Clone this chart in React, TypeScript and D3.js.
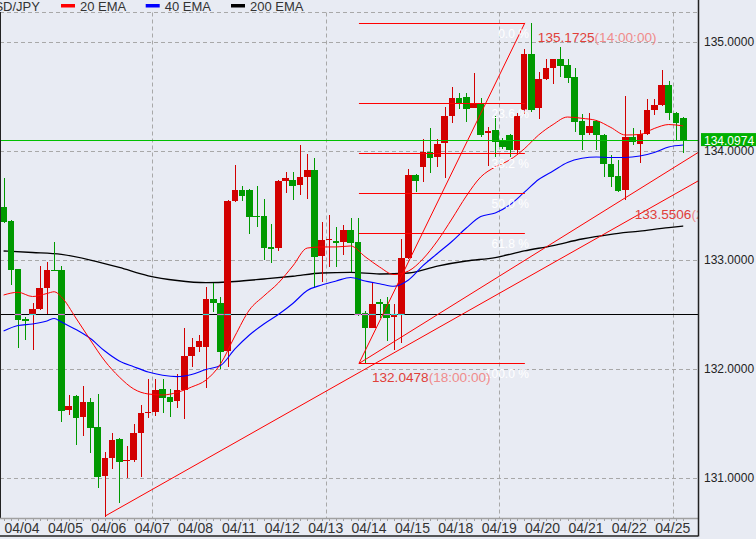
import React from "react";
import * as d3 from "d3";

const dateLabels = ["04/04","04/05","04/06","04/07","04/08","04/11","04/12","04/13","04/14","04/15","04/18","04/19","04/20","04/21","04/22","04/25"];

const opens = [133.484,133.355,132.915,132.456,132.493,132.548,132.740,132.906,132.906,131.621,131.750,131.560,131.695,131.465,131.018,131.181,131.355,131.158,131.162,131.410,131.594,131.606,131.814,131.743,131.707,131.805,132.117,132.199,132.199,132.640,132.603,132.165,133.539,133.640,133.640,133.401,133.401,133.119,133.110,133.725,133.731,133.685,133.759,133.823,133.037,133.181,133.172,133.162,133.272,133.162,132.508,132.376,132.615,132.594,132.477,132.502,133.018,133.777,133.853,133.985,133.945,134.068,134.318,134.484,134.493,134.395,134.435,134.160,134.190,134.089,134.144,134.006,134.373,134.887,134.389,134.655,134.762,134.841,134.786,134.679,134.272,134.160,134.272,134.144,133.878,133.768,133.640,134.128,134.062,134.150,134.373,134.419,134.603,134.343,134.297];
const highs = [133.750,133.364,132.915,132.477,132.603,132.940,132.979,133.162,132.940,131.759,131.760,131.841,131.729,131.768,131.236,131.407,131.360,131.294,131.493,131.667,131.906,131.906,131.906,131.814,131.949,132.371,132.279,132.309,132.750,132.789,132.658,133.545,133.869,133.676,133.649,133.676,133.557,133.328,133.731,133.805,133.805,134.052,133.970,133.933,133.346,133.410,133.300,133.318,133.383,133.383,132.532,132.798,132.642,132.661,132.594,133.190,133.832,133.786,134.105,134.211,134.105,134.398,134.587,134.532,134.532,134.716,134.484,134.215,134.321,134.117,134.150,134.349,134.930,135.1725,134.722,134.841,134.841,134.949,134.841,134.761,134.337,134.343,134.282,134.150,133.961,133.915,134.502,134.206,134.190,134.474,134.474,134.740,134.642,134.358,134.307];
const lows = [133.340,132.768,132.193,132.263,132.174,132.541,132.502,132.896,131.514,131.575,131.300,131.385,131.229,130.908,130.642,131.080,130.771,131.000,131.147,131.009,131.548,131.566,131.596,131.560,131.642,131.536,132.018,132.153,131.826,132.523,131.995,132.018,133.532,133.541,133.236,133.303,132.997,132.967,133.083,133.615,133.548,133.594,133.557,132.743,132.798,132.936,132.936,133.043,132.890,132.483,132.0478,132.370,132.462,132.257,132.172,132.233,133.010,133.624,133.713,133.798,133.853,133.752,134.251,134.380,134.266,134.390,134.126,133.860,133.945,134.013,133.945,133.976,134.337,134.355,134.291,134.649,134.609,134.679,134.621,134.174,134.006,134.140,134.006,133.762,133.670,133.621,133.5506,134.052,133.890,134.144,134.328,134.410,134.282,134.098,133.976];
const closes = [133.349,132.908,132.450,132.440,132.548,132.740,132.906,132.901,131.615,131.658,131.551,131.695,131.459,131.009,131.181,131.346,131.147,131.162,131.410,131.594,131.603,131.805,131.734,131.697,131.805,132.117,132.199,132.254,132.640,132.600,132.156,133.539,133.640,133.587,133.395,133.389,133.110,133.101,133.722,133.750,133.679,133.759,133.823,133.028,133.181,133.190,133.156,133.272,133.156,132.499,132.371,132.594,132.594,132.468,132.502,133.018,133.777,133.722,133.988,133.936,134.062,134.318,134.484,134.435,134.385,134.435,134.144,134.184,134.083,134.037,134.006,134.318,134.887,134.373,134.655,134.756,134.841,134.780,134.670,134.266,134.144,134.227,134.144,133.875,133.762,133.633,134.128,134.083,134.150,134.373,134.419,134.603,134.343,134.251,134.0974];

const emaIdx = [0,2,4,6,7,8,10,12,14,16,18,20,22,24,26,28,30,32,34,36,38,40,42,44,46,48,50,52,54,56,58,60,62,64,66,68,70,72,74,76,78,80,82,84,86,88,90,92,94];
const ema20 = [132.676,132.701,132.662,132.690,132.706,132.658,132.465,132.263,132.071,131.924,131.814,131.768,131.759,131.782,131.832,131.896,132.043,132.300,132.539,132.667,132.786,132.942,133.107,133.117,133.117,133.126,133.028,132.933,132.864,132.896,133.007,133.172,133.373,133.584,133.759,133.851,133.915,134.016,134.144,134.240,134.309,134.297,134.277,134.213,134.144,134.149,134.204,134.240,134.227];
const ema40 = [132.346,132.396,132.410,132.438,132.461,132.428,132.360,132.277,132.162,132.071,132.018,131.970,131.940,131.927,131.947,131.993,132.029,132.181,132.309,132.410,132.497,132.598,132.718,132.768,132.805,132.837,132.805,132.780,132.756,132.814,132.945,133.057,133.167,133.291,133.396,133.429,133.502,133.617,133.736,133.814,133.892,133.930,133.942,133.938,133.938,133.951,133.984,134.034,134.052];
const ema200Idx = [0,4,8,12,16,20,24,28,32,36,40,44,48,52,56,60,64,68,72,76,80,84,88,92,94];
const ema200 = [133.080,133.066,133.048,132.997,132.929,132.852,132.809,132.789,132.800,132.823,132.848,132.878,132.883,132.869,132.878,132.942,132.988,133.020,133.080,133.130,133.190,133.233,133.263,133.295,133.309];

const yTicks = [131, 132, 133, 134, 135];
const lastPrice = 134.0974;
const hLinePrice = 132.502;

const fibLowPrice = 132.0478;
const fibHighPrice = 135.1725;
const fibStartIdx = 49.15;
const fibEndIdx = 72.1;
const fibRatios = [0, 0.236, 0.382, 0.5, 0.618, 1];
const fibTexts = ["0.0 %", "23.6 %", "38.2 %", "50.0 %", "61.8 %", "100.0 %"];

const trendA = [[14.07, 130.649], [96.1, 133.724]];
const trendB = [[49.15, 132.0478], [96.1, 133.985]];

const noteIdx = [72.1, 49.15, 85.5];
const notePrices = [135.1725, 132.0478, 133.5506];
const noteTimes = ["(14:00:00)", "(18:00:00)", "(22:00:00)"];

const legendNames = ["20 EMA", "40 EMA", "200 EMA"];
const legendColors = ["#ff0000", "#0000ff", "#000000"];

export default function App() {
  const W = 756, H = 539, plotR = 698, plotB = 518.5;
  const x = d3.scaleLinear().domain([0, 94]).range([3.6, 683.2]);
  const y = d3.scaleLinear().domain([131, 135]).range([477.7, 41.7]);
  const font = "Arial, 'Liberation Sans', sans-serif";
  const bg = "#e8ebf3";
  const up = "#d20000", down = "#009900";
  const bw = 6.6;

  const line = d3.line<number[]>().x(d => x(d[0])).y(d => y(d[1])).curve(d3.curveMonotoneX);
  const straight = d3.line<number[]>().x(d => x(d[0])).y(d => y(d[1]));

  const e20 = emaIdx.map((k, j) => [k, ema20[j]]);
  const e40 = emaIdx.map((k, j) => [k, ema40[j]]);
  const e200 = ema200Idx.map((k, j) => [k, ema200[j]]);

  const fibRange = fibHighPrice - fibLowPrice;

  return (
    <div style={{ position: "absolute", left: 0, top: 0, width: W, height: H, background: bg }}>
      <svg width={W} height={H} style={{ display: "block", fontFamily: font }}>
        <defs>
          <clipPath id="plot">
            <rect x={0} y={0} width={plotR} height={plotB} />
          </clipPath>
        </defs>
        <rect x={0} y={0} width={W} height={H} fill={bg} />

        {/* grid */}
        <line x1={0} x2={plotR} y1={12.5} y2={12.5} stroke="#a8a8a8" strokeDasharray="4,3" />
        {yTicks.map(t => (
          <line key={"hg" + t} x1={0} x2={plotR} y1={Math.round(y(t)) + 0.5} y2={Math.round(y(t)) + 0.5}
            stroke="#a8a8a8" strokeDasharray="4,3" />
        ))}
        {dateLabels.map((d, k) => k % 4 === 3 ? (
          <line key={"vg" + k} x1={Math.round(x(2.55 + 6 * k)) + 0.5} x2={Math.round(x(2.55 + 6 * k)) + 0.5}
            y1={12.5} y2={plotB} stroke="#a8a8a8" strokeDasharray="4,3" />
        ) : null)}

        <g clipPath="url(#plot)">
          <line x1={0} x2={plotR} y1={Math.round(y(hLinePrice)) + 0.5} y2={Math.round(y(hLinePrice)) + 0.5} stroke="#000" strokeWidth={1.2} />
          <path d={line(e200) || ""} fill="none" stroke="#000" strokeWidth={1.3} />

          {opens.map((o, i) => {
            const c = closes[i];
            const col = c > o ? up : down;
            const top = y(Math.max(o, c));
            const bot = y(Math.min(o, c));
            const cx = Math.round(x(i)) + 0.5;
            return (
              <g key={"c" + i} shapeRendering="crispEdges">
                <line x1={cx} x2={cx} y1={y(highs[i])} y2={y(lows[i])} stroke={col} strokeWidth={1} />
                <rect x={x(i) - bw / 2} y={top} width={bw} height={Math.max(1, bot - top)} fill={col} />
              </g>
            );
          })}
          {opens.map((o, i) => {
            const c = closes[i];
            const lo = Math.min(o, c), hi = Math.max(o, c);
            if (lo > hLinePrice + 0.004 || hi < hLinePrice - 0.004) return null;
            return (
              <line key={"m" + i} x1={x(i) - bw / 2} x2={x(i) + bw / 2} y1={Math.round(y(hLinePrice)) + 0.5}
                y2={Math.round(y(hLinePrice)) + 0.5} stroke={c > o ? "#33e0e0" : "#e070e0"} strokeWidth={1.2} />
            );
          })}

          <path d={line(e40) || ""} fill="none" stroke="#0000ff" strokeWidth={1.1} />
          <path d={line(e20) || ""} fill="none" stroke="#ff0000" strokeWidth={1} />

          <path d={straight(trendA) || ""} fill="none" stroke="#ff0000" strokeWidth={1} />
          <path d={straight(trendB) || ""} fill="none" stroke="#ff0000" strokeWidth={1} />

          <path d={straight([[fibStartIdx, fibLowPrice], [fibEndIdx, fibHighPrice]]) || ""} fill="none" stroke="#ff0000" strokeWidth={1} />
          {fibRatios.map((r, j) => {
            const p = fibHighPrice - r * fibRange;
            const yy = Math.round(y(p)) + 0.5;
            return (
              <g key={"f" + j}>
                <line x1={x(fibStartIdx)} x2={x(fibEndIdx)} y1={yy} y2={yy} stroke="#ff0000" strokeWidth={1.2} />
                <text x={x(fibEndIdx) + 4} y={yy + 14} textAnchor="end" fontSize={12} fill="#ffffff">{fibTexts[j]}</text>
              </g>
            );
          })}

          {noteIdx.map((k, j) => (
            <text key={"n" + j} x={x(k) + 13} y={y(notePrices[j]) + 19} fontSize={13.6}>
              <tspan fill="#e0403a">{notePrices[j].toFixed(4)}</tspan>
              <tspan fill="#f08c8c">{noteTimes[j]}</tspan>
            </text>
          ))}

          <line x1={0} x2={plotR} y1={Math.round(y(lastPrice)) + 0.5} y2={Math.round(y(lastPrice)) + 0.5} stroke="#00c000" strokeWidth={1} />
        </g>

        <line x1={0.5} x2={0.5} y1={12} y2={plotB} stroke="#222" strokeWidth={1} />
        <line x1={0} x2={plotR} y1={plotB} y2={plotB} stroke="#a0a0a0" strokeWidth={1.5} />
        {opens.map((o, i) => (
          <line key={"t" + i} x1={Math.round(x(i)) + 0.5} x2={Math.round(x(i)) + 0.5} y1={plotB} y2={plotB + 2.5} stroke="#a0a0a0" />
        ))}
        <line x1={plotR + 0.5} x2={plotR + 0.5} y1={0} y2={536.5} stroke="#222" strokeWidth={1.5} />
        <line x1={0} x2={plotR} y1={536} y2={536} stroke="#222" strokeWidth={1.5} />

        {dateLabels.map((d, k) => (
          <text key={"d" + k} x={x(2.55 + 6 * k)} y={533} textAnchor="middle" fontSize={14} fill="#333">{d}</text>
        ))}

        {yTicks.map(t => (
          <text key={"yl" + t} x={704} y={y(t) + 4.5} fontSize={12} fill="#222">{t.toFixed(4)}</text>
        ))}
        <rect x={701} y={y(lastPrice) - 7} width={55} height={13} fill="#00b000" />
        <text x={704} y={y(lastPrice) + 4.5} fontSize={12} fill="#ffffff">{lastPrice.toFixed(4)}</text>

        <text x={-15} y={10.5} fontSize={13} fill="#333">USD/JPY</text>
        {legendNames.map((n, j) => {
          const lx = [61, 145.7, 231][j];
          return (
            <g key={"lg" + j}>
              <rect x={lx} y={4} width={14} height={3.5} fill={legendColors[j]} />
              <text x={lx + 19} y={10.5} fontSize={13} fill="#333">{n}</text>
            </g>
          );
        })}
      </svg>
    </div>
  );
}
